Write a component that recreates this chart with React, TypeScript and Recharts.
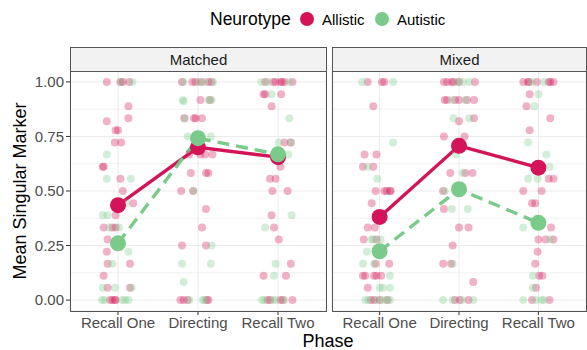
import React from 'react';
import { ComposedChart, Scatter, Line, XAxis, YAxis, CartesianGrid, ReferenceLine } from 'recharts';

const phases = ['Recall One', 'Directing', 'Recall Two'];
const yTicks = [0, 0.25, 0.5, 0.75, 1];
const yMinor = [0.125, 0.375, 0.625, 0.875];

// Means per phase
const matchedAllisticMeans = [0.435, 0.70, 0.655];
const matchedAutisticMeans = [0.26, 0.742, 0.668];
const mixedAllisticMeans = [0.381, 0.707, 0.607];
const mixedAutisticMeans = [0.224, 0.508, 0.354];

// Individual observations: [jitter, value]
const matchedAllisticRecallOne: [number, number][] = [[-0.14,1],[0.03,1],[0.06,1],[0.14,1],[0.13,0.889],[0.13,0.833],[-0.14,0.82],[-0.03,0.778],[0,0.778],[-0.04,0.722],[0.04,0.722],[-0.19,0.611],[-0.18,0.611],[0.03,0.556],[0.06,0.5],[0.19,0.444],[-0.03,0.389],[-0.18,0.333],[-0.07,0.333],[-0.03,0.333],[-0.13,0.278],[-0.14,0.222],[-0.13,0.167],[0.15,0.167],[-0.18,0.111],[-0.13,0.056],[0.15,0.056],[-0.1,0],[-0.07,0],[-0.04,0],[-0.03,0]];
const matchedAutisticRecallOne: [number, number][] = [[0.04,1],[0.18,1],[-0.14,0.667],[-0.14,0.556],[0.16,0.556],[0.1,0.444],[-0.19,0.389],[-0.13,0.389],[-0.11,0.333],[0.01,0.333],[0.13,0.222],[-0.07,0.167],[-0.19,0.056],[-0.04,0.056],[0.17,0.056],[-0.2,0],[-0.17,0],[0.05,0],[0.09,0],[0.13,0]];
const matchedAllisticDirecting: [number, number][] = [[-0.2,1],[-0.07,1],[-0.03,1],[0.04,1],[0.13,1],[0.17,1],[0.03,0.917],[0.15,0.917],[-0.17,0.833],[-0.05,0.833],[-0.03,0.833],[0.05,0.833],[-0.11,0.667],[0.03,0.667],[0.09,0.667],[0.18,0.667],[-0.09,0.583],[0.1,0.583],[0.13,0.583],[-0.21,0.5],[-0.06,0.5],[0.1,0.417],[0.05,0.333],[-0.2,0.25],[0.1,0.25],[-0.22,0],[-0.18,0],[-0.13,0],[0.11,0],[0.13,0]];
const matchedAutisticDirecting: [number, number][] = [[-0.18,1],[0.01,1],[0.08,1],[0.19,1],[-0.19,0.917],[-0.18,0.91],[0.13,0.917],[0.17,0.917],[-0.17,0.833],[-0.13,0.75],[0.16,0.75],[-0.06,0.5],[0.17,0.25],[-0.2,0.167],[0.16,0.167],[-0.18,0.083],[-0.11,0],[0.06,0],[0.08,0]];
const matchedAllisticRecallTwo: [number, number][] = [[-0.16,1],[-0.06,1],[-0.03,1],[0.03,1],[0.05,1],[0.08,1],[0.18,1],[-0.18,0.944],[-0.16,0.944],[0.04,0.944],[-0.08,0.889],[0.08,0.722],[0.16,0.722],[0.03,0.611],[-0.1,0.556],[-0.03,0.556],[-0.07,0.5],[0.12,0.5],[-0.08,0.389],[-0.05,0.333],[0.01,0.278],[0.16,0.167],[-0.18,0.111],[0.1,0.111],[-0.13,0],[-0.1,0],[0.03,0],[0.06,0],[0.18,0]];
const matchedAutisticRecallTwo: [number, number][] = [[-0.21,1],[-0.13,1],[0.14,1],[-0.08,0.944],[0.14,0.833],[0.01,0.722],[0.16,0.722],[0.13,0.667],[0.17,0.389],[-0.16,0.333],[-0.03,0.167],[-0.05,0.111],[-0.2,0],[-0.17,0],[-0.07,0],[-0.03,0],[0.08,0]];
const mixedAllisticRecallOne: [number, number][] = [[-0.15,1],[0.03,1],[0.06,1],[-0.08,0.889],[-0.19,0.667],[-0.04,0.667],[-0.21,0.611],[-0.08,0.611],[-0.05,0.5],[0.06,0.5],[0.09,0.5],[0.13,0.5],[0.14,0.5],[-0.1,0.444],[-0.15,0.333],[-0.06,0.333],[-0.2,0.278],[-0.04,0.278],[-0.05,0.167],[0.12,0.167],[-0.21,0.111],[-0.18,0.111],[-0.07,0.111],[-0.04,0.111],[0.02,0.111],[-0.15,0.056],[-0.11,0],[-0.07,0],[0,0],[0.1,0]];
const mixedAutisticRecallOne: [number, number][] = [[-0.22,1],[0.17,1],[0.17,0.722],[-0.15,0.611],[-0.03,0.556],[-0.1,0.278],[-0.08,0.278],[0.01,0.278],[-0.16,0.222],[-0.21,0.167],[-0.07,0.167],[0.13,0.111],[0,0.056],[0.04,0.056],[0.13,0.056],[-0.18,0],[-0.14,0],[-0.04,0],[0.03,0],[0.08,0],[0.13,0]];
const mixedAllisticDirecting: [number, number][] = [[-0.19,1],[-0.15,1],[-0.09,1],[-0.07,1],[0,1],[0.2,1],[-0.18,0.917],[-0.15,0.917],[-0.05,0.917],[0,0.917],[0.1,0.917],[0.19,0.917],[0,0.82],[0.19,0.833],[-0.19,0.75],[0.07,0.75],[-0.11,0.583],[0.08,0.583],[0.17,0.583],[-0.2,0.5],[-0.19,0.417],[0,0.333],[0.12,0.333],[-0.08,0.25],[-0.2,0.167],[-0.1,0.167],[0.18,0.083],[-0.05,0],[0.01,0],[0.12,0]];
const mixedAutisticDirecting: [number, number][] = [[-0.02,1],[0.05,1],[0.13,1],[-0.09,0.917],[0.08,0.917],[-0.07,0.833],[0.13,0.833],[-0.04,0.667],[0.05,0.583],[-0.18,0.5],[-0.09,0.417],[0.11,0.417],[-0.08,0.167],[-0.2,0],[-0.08,0],[0.04,0],[0.18,0]];
const mixedAllisticRecallTwo: [number, number][] = [[-0.19,1],[-0.13,1],[-0.12,1],[-0.02,1],[0.13,1],[0.15,1],[0.19,1],[-0.11,0.944],[-0.15,0.889],[0.15,0.833],[-0.11,0.778],[0.13,0.556],[0.19,0.556],[-0.19,0.5],[0.04,0.5],[-0.08,0.444],[-0.04,0.444],[0.16,0.333],[0,0.278],[0.09,0.278],[0.19,0.278],[-0.01,0.222],[-0.04,0.167],[0.01,0.111],[0.05,0.111],[-0.03,0.056],[-0.08,0],[0.14,0]];
const mixedAutisticRecallTwo: [number, number][] = [[-0.08,1],[0.07,1],[0,0.944],[-0.05,0.889],[-0.13,0.722],[0.1,0.667],[0.14,0.611],[-0.13,0.556],[-0.01,0.556],[-0.19,0.333],[0.15,0.278],[-0.07,0.111],[-0.07,0.056],[-0.19,0],[-0.03,0],[0.04,0],[0.07,0]];

const ALLISTIC = '#D31459';
const AUTISTIC = '#7ACB8A';
const BORDER = '#555555';
const FONT = '"Liberation Sans", Arial, Helvetica, sans-serif';

const toPoints = (arrs: [number, number][][]) =>
  arrs.flatMap((arr, i) => arr.map(([j, v]) => ({ x: i + 1 + j, y: v })));
const toMeans = (means: number[]) => means.map((v, i) => ({ x: i + 1, y: v }));

const jitterShape = (color: string) => (p: any) => (
  <circle cx={p.cx} cy={p.cy} r={4} fill={color} fillOpacity={0.33} stroke="none" />
);
const meanShape = (color: string) => (p: any) => (
  <circle cx={p.cx} cy={p.cy} r={8} fill={color} stroke="none" />
);

type PanelProps = {
  allistic: [number, number][][];
  autistic: [number, number][][];
  allisticMeans: number[];
  autisticMeans: number[];
  showY: boolean;
  width: number;
  margin: { top: number; right: number; bottom: number; left: number };
};

function Panel({ allistic, autistic, allisticMeans, autisticMeans, showY, width, margin }: PanelProps) {
  return (
    <ComposedChart width={width} height={350} margin={margin}>
      <CartesianGrid stroke="#EBEBEB" strokeWidth={1} />
      {yMinor.map((v) => (
        <ReferenceLine key={v} y={v} stroke="#EBEBEB" strokeWidth={0.7} />
      ))}
      <XAxis
        type="number"
        dataKey="x"
        domain={[0.4, 3.6]}
        ticks={[1, 2, 3]}
        tickFormatter={(v: number) => phases[v - 1]}
        tick={{ fill: '#4D4D4D', fontSize: 15, fontFamily: FONT }}
        tickLine={{ stroke: '#333333' }}
        tickSize={4}
        axisLine={false}
        height={30}
        interval={0}
        allowDataOverflow
      />
      <YAxis
        type="number"
        dataKey="y"
        domain={[-0.05, 1.05]}
        ticks={yTicks}
        tickFormatter={(v: number) => v.toFixed(2)}
        tick={{ fill: '#4D4D4D', fontSize: 15, fontFamily: FONT }}
        tickLine={{ stroke: '#333333' }}
        tickSize={4}
        axisLine={false}
        width={60}
        hide={!showY}
        allowDataOverflow
      />
      <Scatter data={toPoints(allistic)} shape={jitterShape(ALLISTIC)} isAnimationActive={false} />
      <Scatter data={toPoints(autistic)} shape={jitterShape(AUTISTIC)} isAnimationActive={false} />
      <Line data={toMeans(allisticMeans)} dataKey="y" stroke={ALLISTIC} strokeWidth={3.4} dot={false} isAnimationActive={false} />
      <Line data={toMeans(autisticMeans)} dataKey="y" stroke={AUTISTIC} strokeWidth={3.4} strokeDasharray="12 7" dot={false} isAnimationActive={false} />
      <Scatter data={toMeans(allisticMeans)} shape={meanShape(ALLISTIC)} isAnimationActive={false} />
      <Scatter data={toMeans(autisticMeans)} shape={meanShape(AUTISTIC)} isAnimationActive={false} />
    </ComposedChart>
  );
}

const stripStyle = (left: number, width: number): React.CSSProperties => ({
  position: 'absolute', left, top: 47, width, height: 25, boxSizing: 'border-box',
  background: '#F2F2F2', border: `1px solid ${BORDER}`, color: '#1A1A1A', fontSize: 15,
  fontFamily: FONT, display: 'flex', alignItems: 'center', justifyContent: 'center',
});
const borderStyle = (left: number, width: number): React.CSSProperties => ({
  position: 'absolute', left, top: 71, width, height: 241, boxSizing: 'border-box',
  border: `1px solid ${BORDER}`, pointerEvents: 'none',
});

export default function App() {
  return (
    <div style={{ position: 'fixed', left: 0, top: 0, width: 587, height: 350, background: '#fff', fontFamily: FONT }}>
      <div style={{ position: 'absolute', left: 0, top: 0 }}>
        <Panel
          allistic={[matchedAllisticRecallOne, matchedAllisticDirecting, matchedAllisticRecallTwo]}
          autistic={[matchedAutisticRecallOne, matchedAutisticDirecting, matchedAutisticRecallTwo]}
          allisticMeans={matchedAllisticMeans}
          autisticMeans={matchedAutisticMeans}
          showY
          width={328}
          margin={{ top: 71, right: 2, bottom: 9, left: 10 }}
        />
      </div>
      <div style={{ position: 'absolute', left: 326, top: 0 }}>
        <Panel
          allistic={[mixedAllisticRecallOne, mixedAllisticDirecting, mixedAllisticRecallTwo]}
          autistic={[mixedAutisticRecallOne, mixedAutisticDirecting, mixedAutisticRecallTwo]}
          allisticMeans={mixedAllisticMeans}
          autisticMeans={mixedAutisticMeans}
          showY={false}
          width={261}
          margin={{ top: 71, right: 1, bottom: 9, left: 6 }}
        />
      </div>
      <div style={stripStyle(70, 257)}>Matched</div>
      <div style={stripStyle(332, 255)}>Mixed</div>
      <div style={borderStyle(70, 257)} />
      <div style={borderStyle(332, 255)} />
      <svg style={{ position: 'absolute', left: 0, top: 0 }} width={587} height={350}>
        <text x={210} y={25} fontSize={17.5} fill="#000" fontFamily={FONT}>Neurotype</text>
        <circle cx={307} cy={19} r={7} fill={ALLISTIC} />
        <text x={322} y={24.5} fontSize={15} fill="#000" fontFamily={FONT}>Allistic</text>
        <circle cx={382} cy={19} r={7} fill={AUTISTIC} />
        <text x={397} y={24.5} fontSize={15} fill="#000" fontFamily={FONT}>Autistic</text>
        <text x={328} y={347} fontSize={18} fill="#000" fontFamily={FONT} textAnchor="middle">Phase</text>
        <text transform="translate(26,191) rotate(-90)" fontSize={18} fill="#000" fontFamily={FONT} textAnchor="middle">Mean Singular Marker</text>
      </svg>
    </div>
  );
}
